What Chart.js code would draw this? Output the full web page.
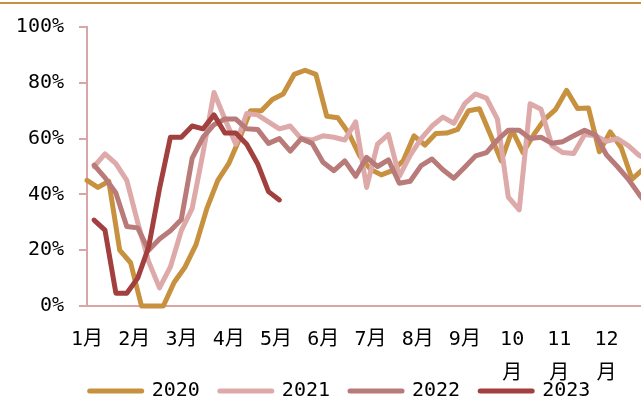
<!DOCTYPE html>
<html><head><meta charset="utf-8">
<script src="https://cdn.jsdelivr.net/npm/chart.js@4.4.1/dist/chart.umd.min.js"></script>
<style>
html,body{margin:0;padding:0;background:#fff;overflow:hidden;width:641px;height:405px;}
#wrap{position:relative;width:680px;height:411px;}
#topline{position:absolute;left:0;top:2px;width:641px;height:2px;background:#C8913F;}
canvas{position:absolute;left:0;top:0;}
</style></head><body>
<div id="wrap"><canvas id="c" width="680" height="411"></canvas><div id="topline"></div></div>
<script>
// Tick labels (months) and series names
const monthLabels = ['1月','2月','3月','4月','5月','6月','7月','8月','9月',['10','月'],['11','月'],['12','月']];
const seriesNames = ['2020','2021','2022','2023'];
const yTickValues = [0,20,40,60,80,100];

// Weekly values (%)
const y2020 = [45,42.5,44.7,20,15.5,0,0,0,8.5,14,22,35,45,51,60,70,70,74,76,83,84.5,83,68,67.5,62,54,49,47,48.5,52,61,57.7,61.8,62,63.3,70,70.7,61.5,52,63,55,61.5,67,70.5,77.3,70.8,71,55.3,62.4,56.8,45.5,49];
const y2021 = [50,54.5,51,45,30,16,6.5,14,27,35,55,76.5,67,58,69,68.5,66,63.5,64.5,60,59.5,61,60.5,59.5,66,42.5,58,61.5,46.5,54,60,64.5,67.7,65.5,72.5,76,74.5,67,39,34.5,72.5,70.5,57.5,55,54.7,61.5,61,59,60,57.5,54,52];
const y2022 = [50.5,46,40.5,28.5,28,20,24,27,31,53,60.5,65,67,67,63.5,63.3,58.3,60,55.5,60,58.3,51.5,48.5,52,46.5,53.3,50,52.4,44,44.7,50.3,52.7,48.8,45.8,49.7,53.8,55,59.5,63,63,60,60.5,58.3,58.9,61,63,61.3,54.2,50,45.5,40,35];
const y2023 = [30.8,27.2,4.6,4.6,10,21,42,60.5,60.5,64.5,63.5,68.5,62,62,58,51,41,38];

const colors = ['#C8913F','#DDA9A9','#B97A7A','#A23F3F'];
const AX = '#D9A5A5';
const FONT = "'DejaVu Sans Mono','Noto Sans CJK SC',monospace";
const weekOffset = [0, 0.65, 0.65, 0.65];
const allSeries = [y2020, y2021, y2022, y2023];

const toPts = (arr, off) => arr.map((v, i) => ({x: i + off, y: v}));

new Chart(document.getElementById('c'), {
  type: 'line',
  data: {
    datasets: allSeries.map((arr, k) => ({
      label: seriesNames[k],
      data: toPts(arr, weekOffset[k]),
      borderColor: colors[k],
      backgroundColor: colors[k],
      borderWidth: 5,
      borderCapStyle: 'round',
      borderJoinStyle: 'round',
      pointRadius: 0,
      pointHoverRadius: 0,
      tension: 0,
      fill: false,
      clip: 8,
      order: 4 - k
    }))
  },
  options: {
    responsive: false,
    animation: false,
    devicePixelRatio: 1,
    layout: {padding: {top: 24, left: 0, right: 0, bottom: 0}},
    plugins: {
      tooltip: {enabled: false},
      legend: {
        position: 'bottom',
        labels: {
          usePointStyle: true,
          pointStyle: 'line',
          pointStyleWidth: 52,
          padding: 20,
          color: '#000',
          font: {family: FONT, size: 20},
          sort: (a, b) => a.datasetIndex - b.datasetIndex,
          generateLabels: chart => Chart.defaults.plugins.legend.labels.generateLabels(chart).map(l => Object.assign(l, {
            lineWidth: 5, lineCap: 'round', pointStyle: 'line', strokeStyle: colors[l.datasetIndex], fillStyle: colors[l.datasetIndex]
          }))
        }
      }
    },
    scales: {
      x: {
        type: 'linear', min: 0, max: 54.4,
        afterBuildTicks: s => { s.ticks = monthLabels.map((_, k) => ({value: k * 52 / 12})); },
        afterFit: s => { s.height = 55; s._computeLabelArea = () => undefined; },
        ticks: {autoSkip: false, maxRotation: 0, minRotation: 0, padding: 17, color: '#000',
          font: {family: FONT, size: 20, lineHeight: 1.7},
          callback: (v, i) => monthLabels[i]},
        grid: {drawOnChartArea: false, drawTicks: false},
        border: {color: AX, width: 2}
      },
      y: {
        min: 0, max: 100,
        afterBuildTicks: s => { s.ticks = yTickValues.map(v => ({value: v})); },
        afterFit: s => { s.width = 87; },
        ticks: {padding: 15, color: '#000', font: {family: FONT, size: 20}, callback: v => v + '%'},
        grid: {drawOnChartArea: false, drawTicks: true, tickLength: 8, color: AX, lineWidth: 2},
        border: {color: AX, width: 2}
      }
    }
  }
});
</script>
</body></html>
